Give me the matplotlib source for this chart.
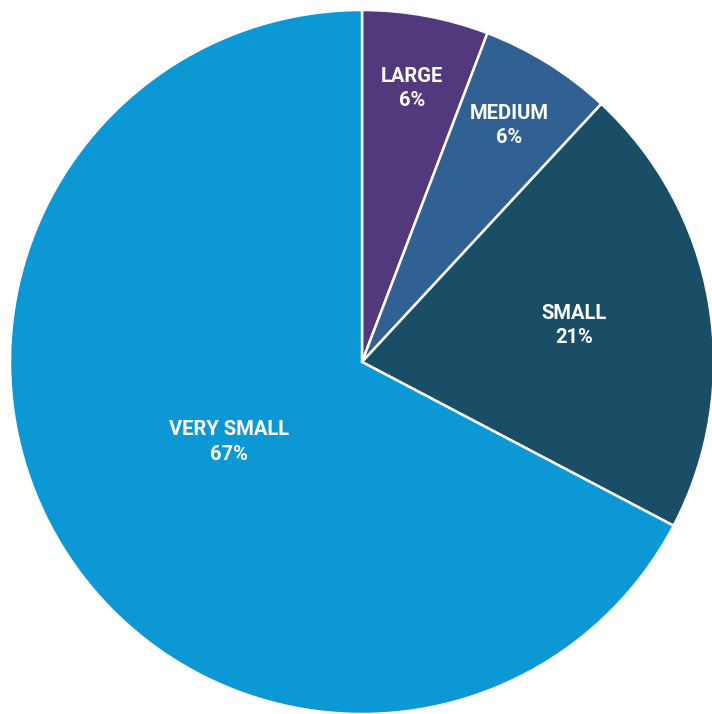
import matplotlib.pyplot as plt
import numpy as np

# slice data, clockwise from 12 o'clock
categories = ['LARGE', 'MEDIUM', 'SMALL', 'VERY SMALL']
shares = [5.8, 6.1, 20.8, 67.3]
pct_labels = ['6%', '6%', '21%', '67%']
colors = ['#52397e', '#316092', '#1a4d66', '#0b98d5']
label_dist = [0.79, 0.79, 0.61, 0.44]

fig = plt.figure(figsize=(7.12, 7.14), dpi=100)
ax = fig.add_axes([0, 0, 1, 1])

wedges, _ = ax.pie(shares, colors=colors, startangle=90, counterclock=False,
                   radius=1.0, center=(0, 0),
                   wedgeprops=dict(edgecolor='white', linewidth=1.8))

for w, cat, pct, d in zip(wedges, categories, pct_labels, label_dist):
    ang = np.deg2rad((w.theta1 + w.theta2) / 2)
    x, y = d * np.cos(ang), d * np.sin(ang)
    ax.text(x, y, f'{cat}\n{pct}', ha='center', va='center', color='white',
            fontsize=14.5, fontweight='bold',
            family=['Roboto', 'DejaVu Sans'], linespacing=1.35)

# center at pixel (362, 362), radius 352 px
r = 352.0
ax.set_xlim(-362 / r, (712 - 362) / r)
ax.set_ylim(-(714 - 362) / r, 362 / r)
ax.set_aspect('equal')
ax.axis('off')

plt.savefig('out.png', dpi=100)
